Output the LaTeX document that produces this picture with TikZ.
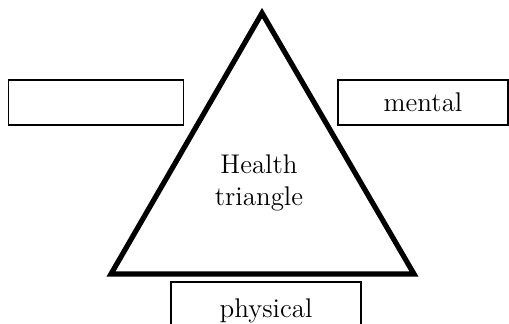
\documentclass[tikz,border=0pt]{standalone}
\usepackage{tikz}

\begin{document}
\begin{tikzpicture}[x=0.5pt, y=-0.5pt,
  box/.style={draw, line width=0.75pt, minimum height=22.5pt, inner sep=0pt,
    font=\fontsize{13.5}{16}\selectfont},
  tri/.style={draw, line width=2.6pt}]

\clip (0,0) rectangle (509,323);

\coordinate (top) at (262,13);
\coordinate (bl) at (111,274);
\coordinate (br) at (414,274);
\draw[tri] (top) -- (bl) -- (br) -- cycle;

\node[align=center, font=\fontsize{13.5}{16}\selectfont] (ht) at (259,183) {Health\\triangle};

\node[box, minimum width=87.5pt] (left) at (96,102.5) {};
\node[box, minimum width=85pt] (mental) at (423,102.5) {mental};
\node[box, minimum width=95pt, minimum height=29pt] (physical) at (266,311) {physical};

\end{tikzpicture}
\end{document}
